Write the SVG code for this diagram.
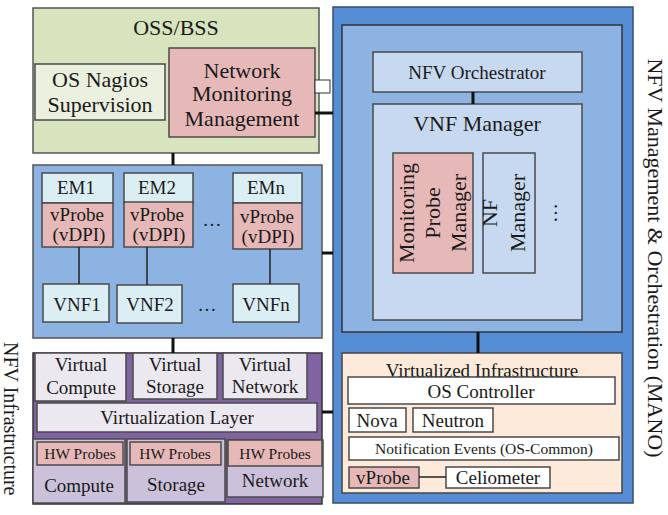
<svg xmlns="http://www.w3.org/2000/svg" width="668" height="515" viewBox="0 0 668 515">
<style>
text{font-family:"Liberation Serif","Times New Roman",serif;fill:#1a1a1a;text-anchor:middle}
.b{stroke:#4a4a4a;stroke-width:1.5}
.f22{font-size:22px}.f20{font-size:20px}.f19{font-size:19px}.f17{font-size:17px}.f16{font-size:15.5px}
.pink{fill:#e6b9b8}.cyan{fill:#dbeef4}.lb{fill:#c6d9f1}.lav{fill:#ebe8f0}.pur{fill:#ccc1da}.wh{fill:#ffffff}
.c{stroke:#111;stroke-width:3;fill:none}
.t{stroke:#222;stroke-width:1.5;fill:none}
</style>
<rect width="668" height="515" fill="#ffffff"/>
<g id="mano">
<rect x="333" y="7" width="300" height="496" fill="#558ed5" stroke="#3b4d66" stroke-width="1.5"/>
<rect x="342" y="25" width="280" height="307" fill="#8db3e2" stroke="#333" stroke-width="1.5"/>
<text class="f22" transform="translate(648,258) rotate(90)">NFV Management &amp; Orchestration (MANO)</text>
</g>
<g id="nfvo"><rect class="b lb" x="373" y="52" width="209" height="40"/><text class="f19" x="477" y="79">NFV Orchestrator</text></g>
<g id="vnfm"><rect class="b lb" x="373" y="104" width="209" height="216"/><text class="f22" x="477" y="131">VNF Manager</text></g>
<g id="mpm"><rect class="b pink" x="393" y="153" width="80" height="120"/>
<text class="f22" transform="translate(414,213) rotate(-90)">Monitoring</text>
<text class="f22" transform="translate(440,213) rotate(-90)">Probe</text>
<text class="f22" transform="translate(466,213) rotate(-90)">Manager</text></g>
<g id="nfm"><rect class="b lb" x="483" y="153" width="52" height="120"/>
<text class="f22" transform="translate(497,213) rotate(-90)">NF</text>
<text class="f22" transform="translate(525,213) rotate(-90)">Manager</text></g>
<text class="f20" transform="translate(557,213) rotate(-90)">…</text>
<g id="vi"><rect x="342" y="353" width="280" height="140" fill="#fdeada" stroke="#444" stroke-width="1.5"/>
<text class="f19" x="482" y="377">Virtualized Infrastructure</text>
<rect class="b wh" x="348" y="377" width="267" height="27"/><text class="f19" x="481" y="398">OS Controller</text>
<rect class="b wh" x="349" y="408" width="57" height="24"/><text class="f19" x="377" y="427">Nova</text>
<rect class="b wh" x="413" y="408" width="80" height="24"/><text class="f19" x="453" y="427">Neutron</text>
<rect class="b wh" x="349" y="437" width="270" height="23"/><text class="f16" x="484" y="454">Notification Events (OS-Common)</text>
<rect class="b pink" x="349" y="467" width="70" height="21"/><text class="f19" x="383" y="484">vProbe</text>
<rect class="b wh" x="446" y="467" width="104" height="21"/><text class="f19" x="498" y="484">Celiometer</text>
</g>
<g id="oss"><rect x="33" y="8" width="286" height="145" fill="#d7e4bd" stroke="#555" stroke-width="1.5"/>
<text class="f22" x="176" y="35">OSS/BSS</text>
<rect class="b" x="35" y="64" width="130" height="56" fill="#ebf1de"/>
<text class="f22" x="100" y="87">OS Nagios</text><text class="f22" x="100" y="112">Supervision</text>
<rect class="b pink" x="169" y="48" width="146" height="89"/>
<text class="f22" x="242" y="78">Network</text><text class="f22" x="242" y="101">Monitoring</text><text class="f22" x="242" y="126">Management</text>
<rect x="315" y="80" width="15" height="13" fill="#fff" stroke="#333" stroke-width="1"/>
</g>
<g id="vnfbox"><rect x="33" y="165" width="289" height="173" fill="#8db3e2" stroke="#555" stroke-width="1.5"/></g>
<g id="em1"><rect class="b cyan" x="42" y="173" width="71" height="30"/><text class="f19" x="76" y="194">EM1</text>
<rect class="b pink" x="42" y="203" width="71" height="44"/><text class="f19" x="77" y="221">vProbe</text><text class="f19" x="79" y="241">(vDPI)</text></g>
<g id="em2"><rect class="b cyan" x="124" y="173" width="69" height="30"/><text class="f19" x="157" y="194">EM2</text>
<rect class="b pink" x="124" y="202" width="69" height="45"/><text class="f19" x="157" y="221">vProbe</text><text class="f19" x="159" y="241">(vDPI)</text></g>
<g id="emn"><rect class="b cyan" x="233" y="173" width="69" height="30"/><text class="f19" x="266" y="194">EMn</text>
<rect class="b pink" x="233" y="203" width="69" height="46"/><text class="f19" x="267" y="223">vProbe</text><text class="f19" x="268" y="243">(vDPI)</text></g>
<text class="f19" x="212" y="226">…</text>
<g id="vnf1"><rect class="b cyan" x="43" y="284" width="66" height="38"/><text class="f19" x="77" y="311">VNF1</text></g>
<g id="vnf2"><rect class="b cyan" x="117" y="285" width="65" height="38"/><text class="f19" x="150" y="311">VNF2</text></g>
<g id="vnfn"><rect class="b cyan" x="233" y="284" width="66" height="38"/><text class="f19" x="266" y="311">VNFn</text></g>
<text class="f19" x="207" y="311">…</text>
<g id="nfvi"><rect x="33" y="353" width="289" height="151" fill="#8064a2" stroke="#333" stroke-width="1.5"/>
<text class="f20" style="text-anchor:start" transform="translate(4,342) rotate(90)">NFV Infrastructure</text>
<rect class="b lav" x="35" y="353" width="91" height="48"/><text class="f19" x="81" y="371">Virtual</text><text class="f19" x="81" y="394">Compute</text>
<rect class="b lav" x="133" y="353" width="84" height="46"/><text class="f19" x="175" y="371">Virtual</text><text class="f19" x="175" y="393">Storage</text>
<rect class="b lav" x="223" y="353" width="84" height="46"/><text class="f19" x="265" y="371">Virtual</text><text class="f19" x="265" y="393">Network</text>
<rect class="b lav" x="37" y="403" width="280" height="29"/><text class="f19" x="177" y="424">Virtualization Layer</text>
<rect class="b pur" x="33" y="439" width="92" height="64"/><rect class="b pink" x="37" y="442" width="86" height="23"/>
<text class="f16" x="80" y="459">HW Probes</text><text class="f19" x="79" y="492">Compute</text>
<rect class="b pur" x="127" y="439" width="98" height="63"/><rect class="b pink" x="130" y="442" width="91" height="23"/>
<text class="f16" x="175" y="459">HW Probes</text><text class="f19" x="176" y="491">Storage</text>
<rect class="b pur" x="227" y="440" width="96" height="57"/><rect class="b pink" x="228" y="440" width="94" height="26"/>
<text class="f16" x="275" y="459">HW Probes</text><text class="f19" x="275" y="487">Network</text>
</g>
<g id="connectors">
<line class="c" x1="173" y1="153" x2="173" y2="165"/>
<line class="c" x1="173" y1="338" x2="173" y2="353"/>
<line class="c" x1="315" y1="113" x2="333" y2="113"/>
<line class="c" x1="322" y1="253" x2="333" y2="253"/>
<line class="c" x1="322" y1="412" x2="333" y2="412"/>
<line class="c" x1="473" y1="92" x2="473" y2="104"/>
<line class="c" x1="478" y1="332" x2="478" y2="353"/>
<line class="t" x1="79" y1="247" x2="79" y2="284"/>
<line class="t" x1="147" y1="247" x2="147" y2="285"/>
<line class="t" x1="270" y1="249" x2="270" y2="284"/>
<line class="t" x1="419" y1="477" x2="446" y2="477"/>
</g>
</svg>
